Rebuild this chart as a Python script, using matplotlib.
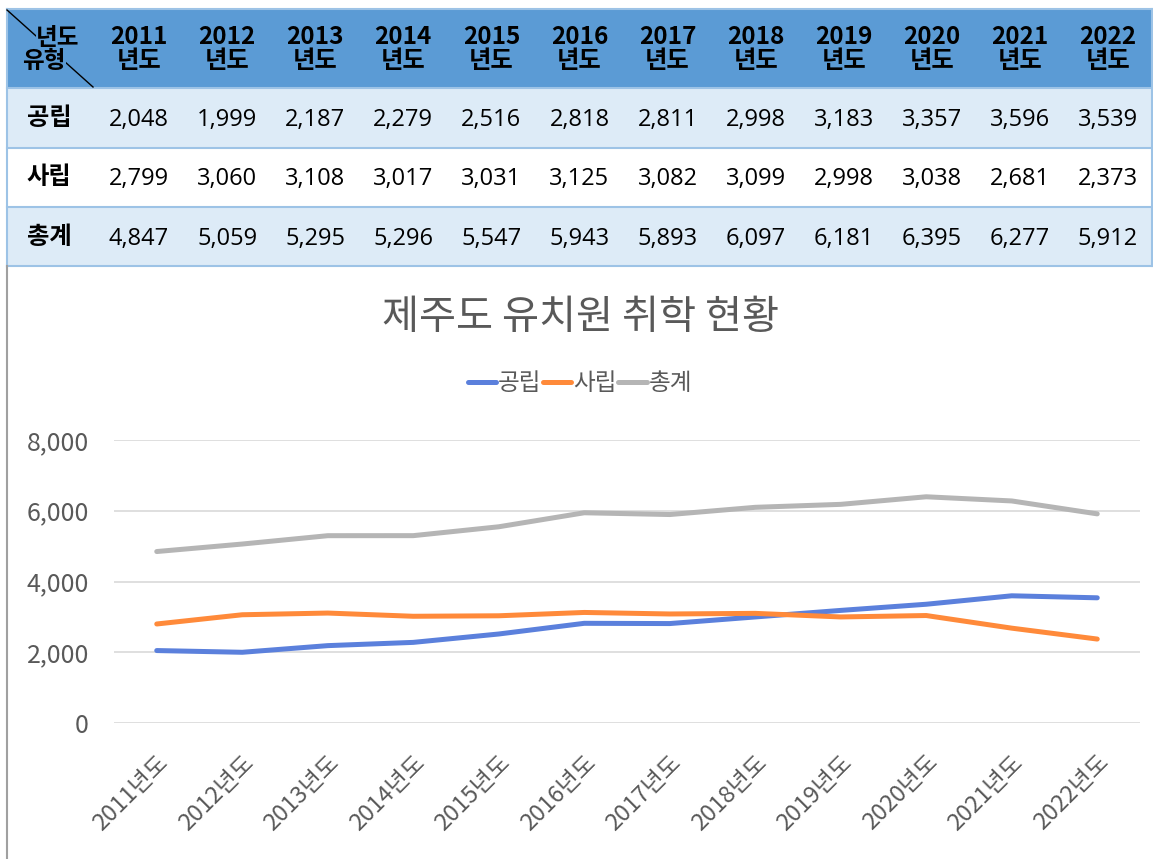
import matplotlib
matplotlib.use("Agg")
import matplotlib.pyplot as plt
from matplotlib.patches import Rectangle
from matplotlib.lines import Line2D

plt.rcParams['font.family'] = ['Noto Sans CJK KR', 'DejaVu Sans']

years = ["2011", "2012", "2013", "2014", "2015", "2016", "2017", "2018", "2019", "2020", "2021", "2022"]
categories = [y + "년도" for y in years]
series_names = ["공립", "사립", "총계"]
public = [2048, 1999, 2187, 2279, 2516, 2818, 2811, 2998, 3183, 3357, 3596, 3539]
private = [2799, 3060, 3108, 3017, 3031, 3125, 3082, 3099, 2998, 3038, 2681, 2373]
total = [4847, 5059, 5295, 5296, 5547, 5943, 5893, 6097, 6181, 6395, 6277, 5912]
yticks = [0, 2000, 4000, 6000, 8000]
title = "제주도 유치원 취학 현황"

colors = ["#5B80DC", "#FF8A3A", "#B5B5B5"]

W, H = 1153, 859
fig = plt.figure(figsize=(W / 100, H / 100), dpi=100)

# ---- table drawn in pixel space ----
tab = fig.add_axes([0, 0, 1, 1])
tab.set_xlim(0, W)
tab.set_ylim(H, 0)
tab.axis("off")

tx0, tx1 = 7, 1152
first_w = 88
col_w = (tx1 - tx0 - first_w) / len(years)
row_edges = [9, 88, 148, 207, 266]
header_bg = "#5B9BD5"
light_bg = "#DDEBF7"
border = "#9DC3E6"
num_font = ['Open Sans', 'Noto Sans CJK KR']

row_bgs = [header_bg, light_bg, "white", light_bg]
for i, bg in enumerate(row_bgs):
    tab.add_patch(Rectangle((tx0, row_edges[i]), tx1 - tx0, row_edges[i + 1] - row_edges[i],
                            facecolor=bg, edgecolor="none", zorder=1))
for ye in row_edges:
    tab.add_line(Line2D([tx0, tx1], [ye, ye], color=border, lw=1.5, zorder=2))
tab.add_line(Line2D([tx0, tx0], [row_edges[0], row_edges[-1]], color=border, lw=1.5, zorder=2))
tab.add_line(Line2D([tx1, tx1], [row_edges[0], row_edges[-1]], color=border, lw=1.5, zorder=2))

# diagonal header cell
tab.add_line(Line2D([tx0, tx0 + 86], [row_edges[0] + 1, row_edges[1] - 1], color="black", lw=1.0, zorder=3))
tab.text(58, 38, "년도", ha="center", va="center", fontsize=17, fontweight="bold", color="black", zorder=4,
         bbox=dict(facecolor=header_bg, edgecolor="none", pad=0.3))
tab.text(44, 61, "유형", ha="center", va="center", fontsize=17, fontweight="bold", color="black", zorder=4,
         bbox=dict(facecolor=header_bg, edgecolor="none", pad=0.3))

for j, y in enumerate(years):
    cx = tx0 + first_w + col_w * (j + 0.5)
    tab.text(cx, 37, y, ha="center", va="center", fontsize=17.5, fontweight="bold", color="black", zorder=4)
    tab.text(cx, 61, "년도", ha="center", va="center", fontsize=17.5, fontweight="bold", color="black", zorder=4)

for i, (name, vals) in enumerate(zip(series_names, [public, private, total])):
    cy = (row_edges[i + 1] + row_edges[i + 2]) / 2
    tab.text(tx0 + first_w / 2 - 2, cy, name, ha="center", va="center", fontsize=17.5, fontweight="bold",
             color="black", zorder=4)
    for j, v in enumerate(vals):
        cx = tx0 + first_w + col_w * (j + 0.5)
        tab.text(cx, cy + 2, f"{v:,}", ha="center", va="center", fontsize=17, color="black", zorder=4,
                 family=num_font)

# left frame line of chart area
tab.add_line(Line2D([7, 7], [266, H], color="#A0A0A0", lw=1.5, zorder=2))

# ---- line chart ----
ax_left, ax_right = 114, 1140
ax_top, ax_bot = 440, 723
ax = fig.add_axes([ax_left / W, 1 - ax_bot / H, (ax_right - ax_left) / W, (ax_bot - ax_top) / H])
x = list(range(len(categories)))
for vals, name, c in zip([public, private, total], series_names, colors):
    ax.plot(x, vals, color=c, lw=3.6, label=name, solid_capstyle="round", solid_joinstyle="round", zorder=3)

ax.set_xlim(-0.5, len(categories) - 0.5)
ax.set_ylim(0, 8000)
ax.set_yticks(yticks)
ax.set_yticklabels([f"{v:,}" for v in yticks])
ax.yaxis.grid(True, color="#D9D9D9", lw=1.2)
ax.set_axisbelow(True)
for s in ax.spines.values():
    s.set_visible(False)
ax.tick_params(axis="both", length=0, colors="#595959")
ax.tick_params(axis="y", pad=18, labelsize=18)
ax.set_xticks(x)
ax.set_xticklabels(categories, rotation=45, ha="right", rotation_mode="anchor")
ax.tick_params(axis="x", pad=20, labelsize=17)
ax.set_facecolor("none")

fig.text(580 / W, 1 - 318 / H, title, ha="center", va="center", fontsize=29, color="#595959")
leg = ax.legend(loc="center", bbox_to_anchor=(580 / W, 1 - 384 / H), bbox_transform=fig.transFigure,
                ncol=3, frameon=False, fontsize=17, handlelength=1.2, handletextpad=0.1, columnspacing=0.05,
                labelcolor="#595959")

fig.savefig("out.png", dpi=100)
